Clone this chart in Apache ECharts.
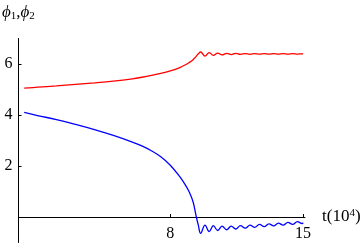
<!DOCTYPE html>
<html>
<head>
<meta charset="utf-8">
<style>html,body{margin:0;padding:0;background:#fff}#c{width:363px;height:245px}</style>
<script src="https://cdn.jsdelivr.net/npm/echarts@6/dist/echarts.min.js"></script>
</head>
<body>
<div id="c"></div>
<script>
// time values (units of 10^4)
var tVals = [0.3, 1, 2, 3, 4, 5, 6, 6.5, 7, 7.5, 8, 8.5, 8.8, 9.0, 9.2, 9.35, 9.48,
  9.6, 9.83, 10.05, 10.27, 10.5, 10.73, 10.97, 11.21, 11.45, 11.7, 11.95, 12.2, 12.45,
  12.7, 12.95, 13.2, 13.45, 13.7, 13.95, 14.2, 14.45, 14.7, 14.95, 15.0];
var phi1 = [5.05, 5.09, 5.14, 5.2, 5.26, 5.33, 5.42, 5.48, 5.55, 5.63, 5.73, 5.86, 5.97, 6.06, 6.17, 6.29, 6.40,
  6.47, 6.31, 6.45, 6.34, 6.43, 6.36, 6.42, 6.37, 6.42, 6.38, 6.41, 6.38, 6.41,
  6.385, 6.41, 6.385, 6.405, 6.385, 6.405, 6.39, 6.405, 6.39, 6.40, 6.395];
var phi2 = [4.10, 3.98, 3.82, 3.63, 3.43, 3.2, 2.94, 2.79, 2.6, 2.36, 2.03, 1.58, 1.25, 0.98, 0.6, 0.08, -0.33,
  -0.64, -0.32, -0.57, -0.34, -0.53, -0.36, -0.50, -0.36, -0.47, -0.34, -0.44, -0.32, -0.41,
  -0.29, -0.38, -0.27, -0.35, -0.24, -0.32, -0.21, -0.29, -0.18, -0.26, -0.22];
var xTicks = [8, 15];
var yTicks = [2, 4, 6];

function pairs(v){ return tVals.map(function(t,i){ return [t, v[i]]; }); }
var FONT = 'Liberation Serif';
var chart = echarts.init(document.getElementById('c'), null, {renderer:'canvas'});
chart.setOption({
  animation: false,
  grid: {left: 18.5, right: 58, top: 38.5, bottom: 2.5, containLabel: false, outerBoundsMode: 'none'},
  xAxis: {
    type: 'value', min: 0, max: 15.1,
    axisLine: {onZero: true, lineStyle: {color: '#000', width: 1}},
    axisTick: {inside: true, length: 3, customValues: xTicks, lineStyle: {color:'#000'}},
    axisLabel: {customValues: xTicks, color: '#000', fontFamily: FONT, fontSize: 16, margin: -17},
    splitLine: {show: false},
    name: '{a|t(10}{s|4}{a|)}', nameLocation: 'end', nameGap: 17,
    nameTextStyle: {rich: {a: {fontFamily: FONT, fontSize: 17, color: '#000'}, s: {fontFamily: FONT, fontSize: 11, color: '#000', verticalAlign: 'top', padding:[0,0,7,0]}}}
  },
  yAxis: {
    type: 'value', min: -1, max: 7,
    axisLine: {show: true, lineStyle: {color: '#000', width: 1}},
    axisTick: {inside: true, length: 3, customValues: yTicks, lineStyle: {color:'#000'}},
    axisLabel: {customValues: yTicks, color: '#000', fontFamily: FONT, fontSize: 16, margin: 6},
    splitLine: {show: false}
  },
  graphic: [{
    type: 'text', left: 2, top: 4,
    style: {
      text: '{p|ϕ}{s|1}{a|,}{p|ϕ}{s|2}',
      rich: {
        p: {fontFamily: FONT, fontStyle: 'italic', fontSize: 17, fill: '#000'},
        a: {fontFamily: FONT, fontSize: 17, fill: '#000'},
        s: {fontFamily: FONT, fontSize: 11, fill: '#000', padding: [7,0,0,0]}
      }
    }
  }],
  series: [
    {type: 'line', data: pairs(phi1), smooth: 0.4, showSymbol: false, lineStyle: {color: '#ff0000', width: 1.3}, z: 3},
    {type: 'line', data: pairs(phi2), smooth: 0.4, showSymbol: false, lineStyle: {color: '#0000ff', width: 1.3}, z: 3}
  ]
});
</script>
</body>
</html>
